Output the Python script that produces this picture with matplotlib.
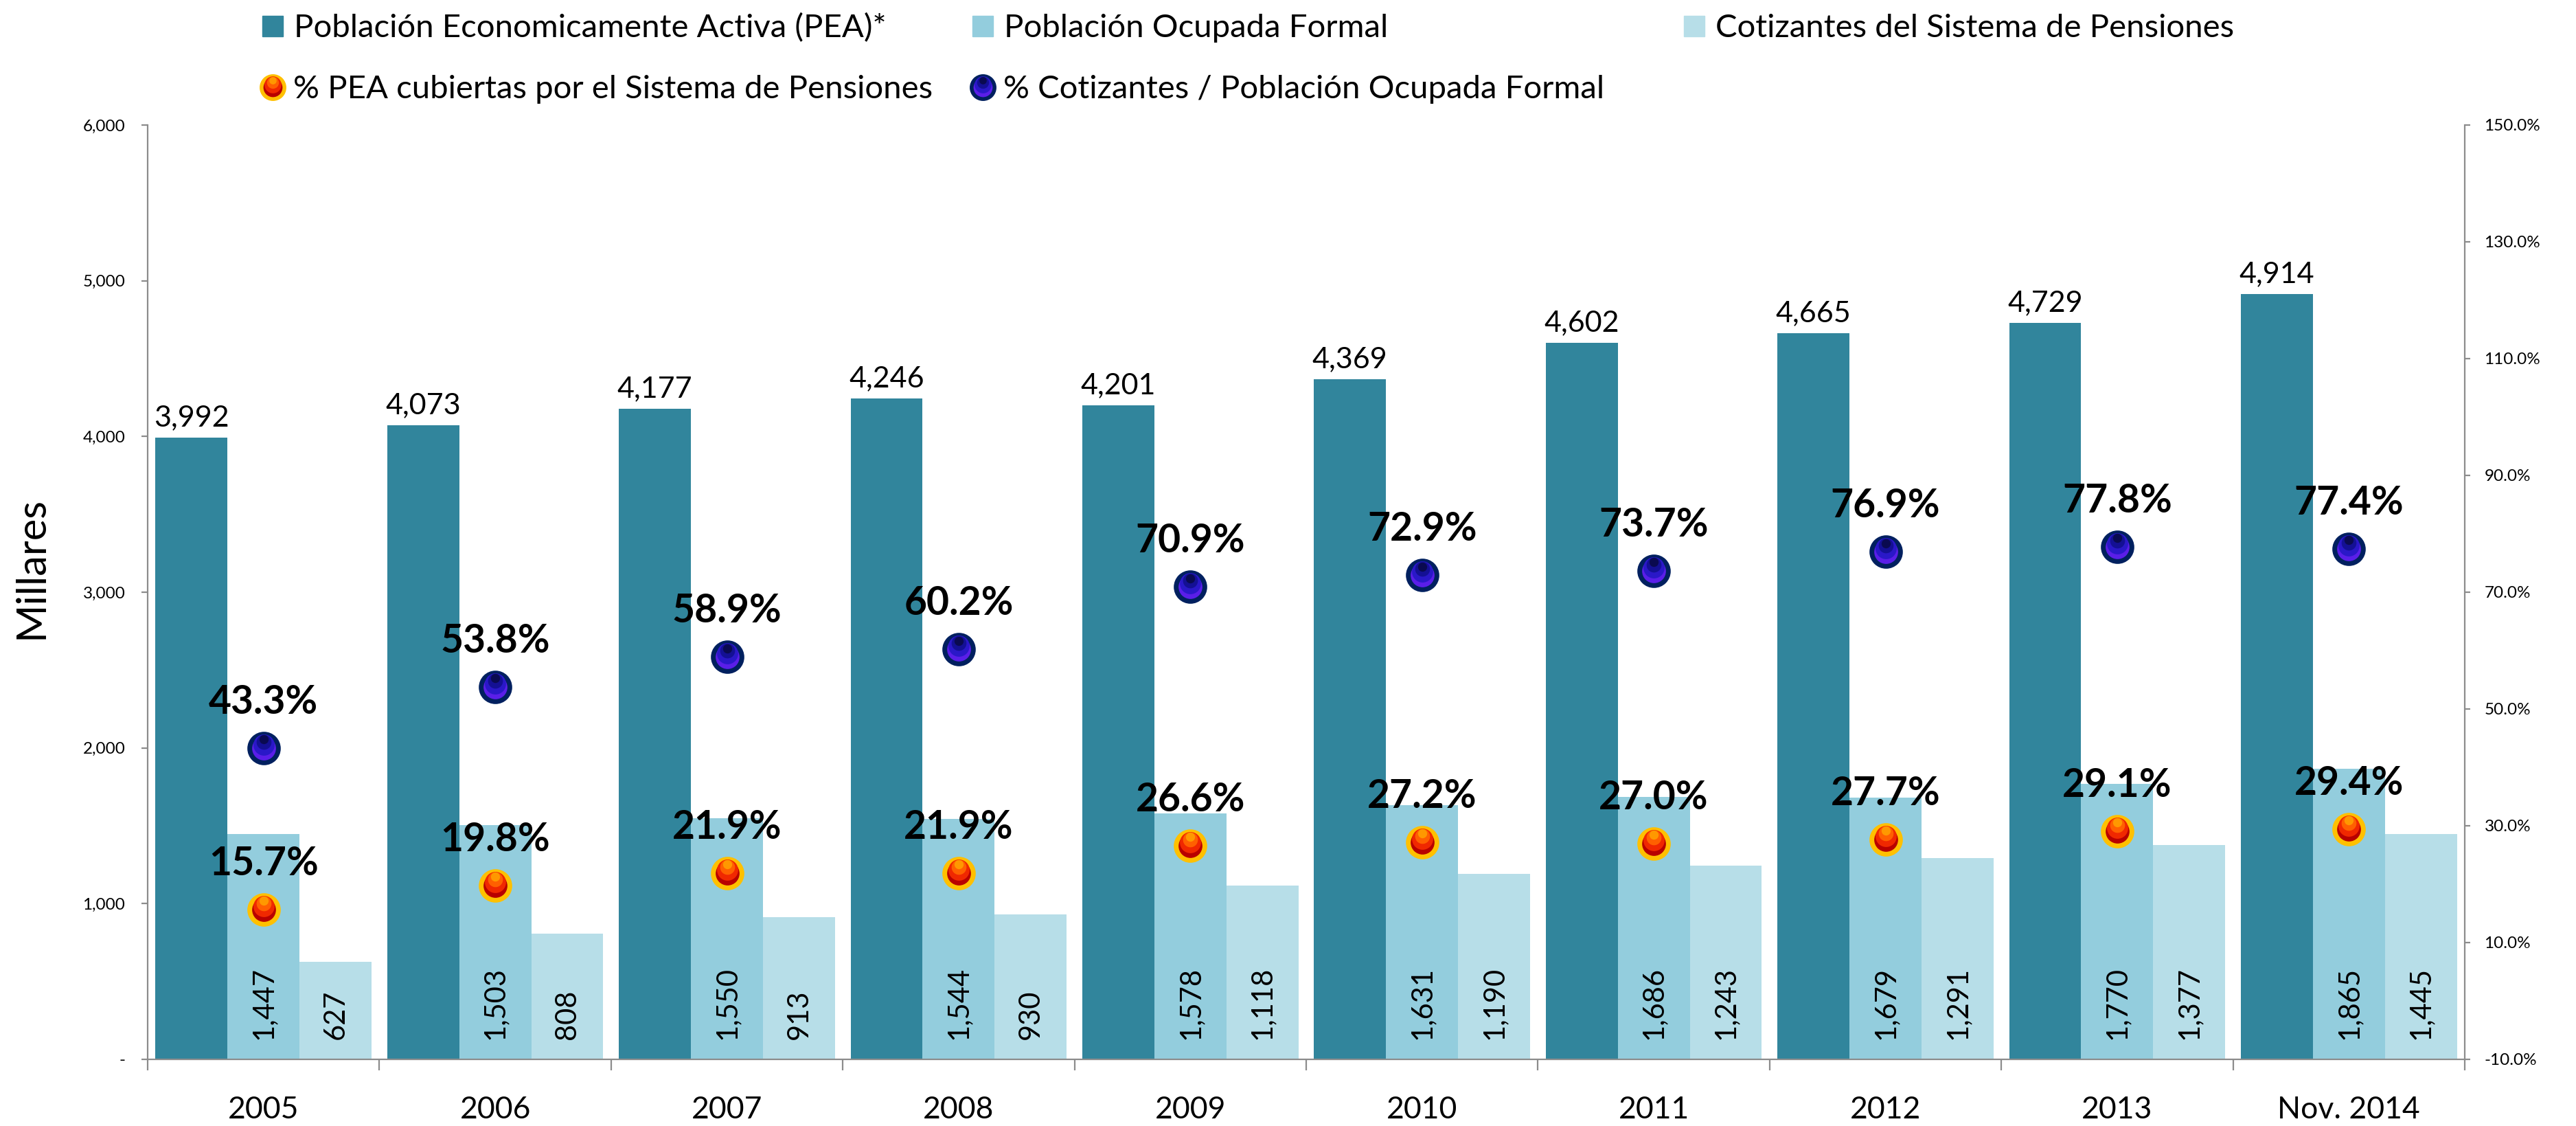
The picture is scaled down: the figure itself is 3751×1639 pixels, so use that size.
import matplotlib
matplotlib.use('Agg')
import matplotlib.pyplot as plt
import matplotlib.transforms as mtransforms
from matplotlib.patches import Rectangle
import numpy as np

plt.rcParams['font.family'] = ['Lato', 'DejaVu Sans']

# ---------------- data ----------------
categories = ['2005', '2006', '2007', '2008', '2009', '2010', '2011', '2012', '2013', 'Nov. 2014']
pea = [3992, 4073, 4177, 4246, 4201, 4369, 4602, 4665, 4729, 4914]
ocupada = [1447, 1503, 1550, 1544, 1578, 1631, 1686, 1679, 1770, 1865]
cotizantes = [627, 808, 913, 930, 1118, 1190, 1243, 1291, 1377, 1445]
pct_pea = [15.7, 19.8, 21.9, 21.9, 26.6, 27.2, 27.0, 27.7, 29.1, 29.4]
pct_cot = [43.3, 53.8, 58.9, 60.2, 70.9, 72.9, 73.7, 76.9, 77.8, 77.4]

left_ticks = [0, 1000, 2000, 3000, 4000, 5000, 6000]
left_ticklabels = ['-', '1,000', '2,000', '3,000', '4,000', '5,000', '6,000']
right_ticks = [-10, 10, 30, 50, 70, 90, 110, 130, 150]
right_ticklabels = ['-10.0%', '10.0%', '30.0%', '50.0%', '70.0%', '90.0%', '110.0%', '130.0%', '150.0%']

legend_labels = ['Población Economicamente Activa (PEA)*', 'Población Ocupada Formal',
                 'Cotizantes del Sistema de Pensiones',
                 '% PEA cubiertas por el Sistema de Pensiones',
                 '% Cotizantes / Población Ocupada Formal']
y_label = 'Millares'

# ---------------- style ----------------
W, H = 3751, 1639
C_PEA = '#31859C'
C_OCU = '#93CDDD'
C_COT = '#B7DEE8'
C_AX = '#8C8C8C'

ORANGE_LAYERS = ['#B80000', '#F02800', '#FF6000', '#FF9800']
ORANGE_RIM = '#FFC000'
BLUE_LAYERS = ['#5A1EE8', '#2A18C8', '#141094', '#0A0A50']
BLUE_RIM = '#00205F'

fig = plt.figure(figsize=(W / 100, H / 100), dpi=100)
ax = fig.add_axes([215 / W, 1 - 1542 / H, (3589 - 215) / W, (1542 - 182) / H])

x = np.arange(len(categories))
w = 0.311
ax.bar(x - w, pea, w, color=C_PEA, zorder=2)
ax.bar(x, ocupada, w, color=C_OCU, zorder=2)
ax.bar(x + w, cotizantes, w, color=C_COT, zorder=2)

ax.set_xlim(-0.5, len(categories) - 0.5)
ax.set_ylim(0, 6000)

for xi, v in zip(x - w, pea):
    ax.annotate(f'{v:,}', (xi, v), xytext=(0, 12), textcoords='offset points',
                ha='center', va='baseline', fontsize=31, zorder=5)
for xi, v in zip(x, ocupada):
    ax.annotate(f'{v:,}', (xi, 0), xytext=(0, 21), textcoords='offset points',
                ha='center', va='bottom', rotation=90, fontsize=30, zorder=5)
for xi, v in zip(x + w, cotizantes):
    ax.annotate(f'{v:,}', (xi, 0), xytext=(0, 21), textcoords='offset points',
                ha='center', va='bottom', rotation=90, fontsize=30, zorder=5)

# axes styling
for s in ['top', 'right']:
    ax.spines[s].set_visible(False)
for s in ['left', 'bottom']:
    ax.spines[s].set_color(C_AX)
    ax.spines[s].set_linewidth(1.6)

ax.set_yticks(left_ticks)
ax.set_yticklabels(left_ticklabels)
ax.tick_params(axis='y', direction='out', length=6.5, width=1.6, color=C_AX,
               labelsize=17.5, pad=17)
ax.set_xticks(x)
ax.set_xticklabels(categories)
ax.set_xticks(np.arange(-0.5, len(categories), 1.0), minor=True)
ax.tick_params(axis='x', which='major', length=0, labelsize=32, pad=38)
ax.tick_params(axis='x', which='minor', direction='out', length=11.5, width=1.6, color=C_AX)

# secondary axis
ax2 = ax.twinx()
ax2.set_ylim(-10, 150)
ax2.set_yticks(right_ticks)
ax2.set_yticklabels(right_ticklabels)
for s in ['top', 'left', 'bottom']:
    ax2.spines[s].set_visible(False)
ax2.spines['right'].set_color(C_AX)
ax2.spines['right'].set_linewidth(1.6)
ax2.tick_params(axis='y', direction='out', length=6, width=1.6, color=C_AX,
                labelsize=17.5, pad=14.5)


def gradient_markers(axis, xs, ys, layers, rim, ms=30, mew=5, zbase=6):
    axis.plot(xs, ys, linestyle='none', marker='o', ms=ms, mfc=layers[0], mec=rim,
              mew=mew, zorder=zbase)
    r_in = ms / 2.0
    sizes = [ms * 0.74, ms * 0.52, ms * 0.32]
    for k, (sz, col) in enumerate(zip(sizes, layers[1:])):
        dy = (r_in - sz / 2.0) * 0.9
        tr = axis.transData + mtransforms.ScaledTranslation(0, dy / 72.0, fig.dpi_scale_trans)
        axis.plot(xs, ys, linestyle='none', marker='o', ms=sz, mfc=col, mec='none',
                  transform=tr, zorder=zbase + 1 + k)


gradient_markers(ax2, x, pct_pea, ORANGE_LAYERS, ORANGE_RIM)
gradient_markers(ax2, x, pct_cot, BLUE_LAYERS, BLUE_RIM)

for xi, v in zip(x, pct_pea):
    ax2.annotate(f'{v:.1f}%', (xi, v), xytext=(0, 36), textcoords='offset points',
                 ha='center', va='baseline', fontsize=41, fontweight='bold', zorder=10)
for xi, v in zip(x, pct_cot):
    ax2.annotate(f'{v:.1f}%', (xi, v), xytext=(0, 36), textcoords='offset points',
                 ha='center', va='baseline', fontsize=41, fontweight='bold', zorder=10)

# y label
fig.text(46 / W, 1 - 826 / H, y_label, rotation=90, ha='center', va='center', fontsize=43)

# ---------------- legend (manual, pixel coordinates) ----------------
lg = fig.add_axes([0, 0, 1, 1], zorder=20)
lg.set_xlim(0, W)
lg.set_ylim(H, 0)
lg.axis('off')
lg.patch.set_alpha(0)

LEG_FS = 34
col_x = [382, 1416, 2452]
row1_y, row2_y = 38, 127
for cx, col, lab in zip(col_x, [C_PEA, C_OCU, C_COT], legend_labels[:3]):
    lg.add_patch(Rectangle((cx, row1_y - 15), 30, 30, color=col))
    lg.text(cx + 46, row1_y + 16, lab, fontsize=LEG_FS, va='baseline', ha='left')


def legend_marker(cx, cy, layers, rim):
    ms, mew = 24, 4
    lg.plot([cx], [cy], linestyle='none', marker='o', ms=ms, mfc=layers[0], mec=rim, mew=mew)
    r_in = ms / 2.0
    for sz, col in zip([ms * 0.74, ms * 0.52, ms * 0.32], layers[1:]):
        dy = (r_in - sz / 2.0) * 0.9
        tr = lg.transData + mtransforms.ScaledTranslation(0, dy / 72.0, fig.dpi_scale_trans)
        lg.plot([cx], [cy], linestyle='none', marker='o', ms=sz, mfc=col, mec='none', transform=tr)


legend_marker(col_x[0] + 15, row2_y, ORANGE_LAYERS, ORANGE_RIM)
lg.text(col_x[0] + 45, row2_y + 16, legend_labels[3], fontsize=LEG_FS, va='baseline', ha='left')
legend_marker(col_x[1] + 15, row2_y, BLUE_LAYERS, BLUE_RIM)
lg.text(col_x[1] + 45, row2_y + 16, legend_labels[4], fontsize=LEG_FS, va='baseline', ha='left')

fig.savefig('out.png', dpi=100)
